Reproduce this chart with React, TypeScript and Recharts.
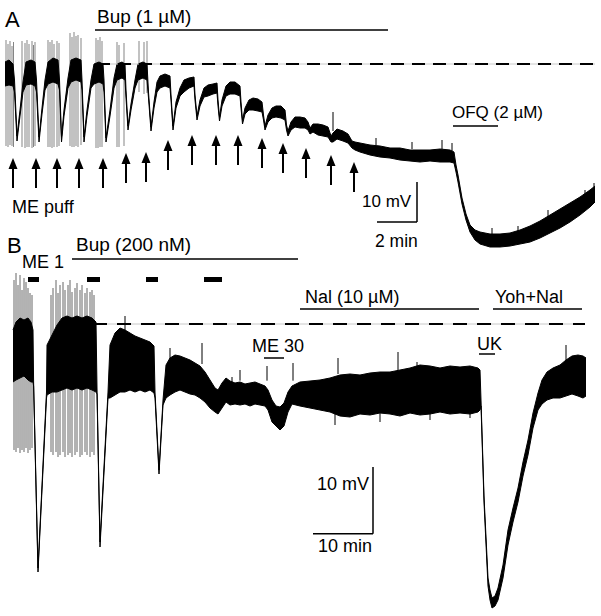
import { ComposedChart, Area, Scatter, XAxis, YAxis, ReferenceLine, ReferenceDot } from 'recharts';

const FONT = '"Liberation Sans", Arial, sans-serif';

// ---- Panel A: time in s, membrane potential in mV relative to the control plateau ----
const timeA = [
  15, 27, 39, 43.5, 51, 60, 69,
  78, 93, 105, 109.5, 117, 126, 135,
  144, 159, 174, 178.5, 184.5, 192, 204,
  213, 228, 243, 246, 252, 261, 273,
  282, 297, 309, 312, 318, 330, 342,
  351, 366, 375, 378, 384, 393, 405,
  414, 429, 441, 445.5, 453, 462, 471,
  480, 495, 510, 513, 519, 528, 540,
  552, 567, 582, 585, 591, 600, 612,
  624, 639, 651, 654, 658.5, 666, 678,
  690, 705, 720, 723, 727.5, 735, 747,
  759, 774, 786, 790.5, 795, 804, 816,
  828, 843, 855, 859.5, 864, 873, 885,
  900, 915, 924, 930, 939, 954,
  969, 984, 993, 999, 1011, 1029, 1044, 1056, 1065, 1080, 1110, 1140, 1170, 1200, 1230, 1260,
  1290, 1320, 1350, 1362, 1368, 1374, 1386, 1398, 1410, 1425, 1440, 1470, 1500, 1530, 1560,
  1590, 1620, 1650, 1680, 1710, 1740, 1770, 1785,
];
const highA = [
  0.25, 0.75, -0.25, -4.25, -18.25, -11.75, -4.75,
  0.25, 0.75, 0.25, -4.25, -18.5, -11.25, -4.25,
  0.25, 1.25, 0.75, -4.25, -18.5, -11.75, -3.75,
  0.75, 1.25, 0.75, -4.25, -18.5, -11.75, -4.25,
  -0.25, 0.25, -0.25, -4.25, -18.75, -11.75, -3.75,
  -0.25, 0.25, -0.25, -6.75, -15.75, -10.25, -4.25,
  -0.25, 0.25, -0.25, -7.25, -16, -9.75, -4.75,
  -3.25, -2.75, -3.25, -8, -15.75, -9.75, -6.25,
  -4.25, -3.75, -3.5, -8, -13.25, -9.25, -6.25,
  -5.5, -5.25, -5, -9.25, -13.5, -9.25, -5.75,
  -4.75, -4.75, -5.75, -9.75, -14.25, -11.25, -9.25,
  -8.75, -9, -9.75, -13, -15.75, -13, -11.25,
  -10.75, -10.75, -11.75, -15.5, -17, -14.75, -13.5,
  -13.5, -13.75, -14.75, -16.25, -15.25, -15.25,
  -15.5, -16, -18.25, -17.5, -16.5, -17, -17.75, -19.5, -19.75, -20, -20.5, -20.75, -21.25, -21.25, -21.75, -21.75,
  -21.75, -21.5, -21.75, -22.25, -25.5, -28, -33.75, -37.75, -40.5, -41.75, -42.25, -42.75, -42.75, -42.5, -41.75,
  -40.75, -39.5, -38, -36.5, -35, -33.5, -31.75, -30.75,
];
const lowA = [
  -5.75, -5.5, -5.75, -7.25, -19.5, -13.25, -7.25,
  -5.5, -5.25, -5.75, -7.25, -19.75, -12.75, -6.75,
  -5.25, -4.75, -5.25, -6.75, -19.75, -13.25, -6.25,
  -4.75, -4.25, -4.75, -6.75, -19.75, -13.25, -6.25,
  -5.25, -4.75, -5.25, -7.25, -19.75, -13.25, -6.25,
  -4.25, -3.75, -4.25, -8.75, -16.75, -11.75, -6.25,
  -4.25, -3.75, -4.25, -8.75, -17, -11.25, -7.25,
  -6.25, -5.75, -6.25, -9.25, -16.75, -11.25, -8.25,
  -7.25, -6.25, -5.75, -9.25, -14.25, -10.75, -8.5,
  -8.25, -7.75, -7.5, -10.75, -14.5, -10.75, -8.25,
  -7.75, -7.75, -8.25, -11.25, -15.25, -12.75, -11.75,
  -11.75, -12, -12.25, -14.25, -16.75, -14.75, -13.75,
  -13.5, -13.75, -14.25, -16.75, -18.25, -16.75, -16,
  -16.25, -16.25, -16.75, -17.75, -17.25, -18,
  -18.25, -18.5, -19.75, -19.75, -19, -19.5, -20, -21.25, -21.75, -22.25, -23, -23.5, -23.75, -24.25, -24.5, -24.75,
  -24.5, -24.75, -24.75, -25, -27.25, -29.75, -35.25, -39.25, -42.25, -44.25, -45.25, -46, -46, -45.75, -45.25,
  -44.75, -43.75, -42.5, -41.25, -39.75, -38, -36, -34.75,
];

// action potentials riding on the plateaus (grey) and single noise blips (black)
const spikeTimeA = [18, 24, 30, 36, 40.5, 66, 75, 81, 87, 96, 100.5, 105, 144, 150, 156, 162, 171, 177, 210, 216, 222, 228, 234, 243, 288, 294, 300, 306, 351, 357, 372, 417, 432, 441];
const spikeTopA = [5.75, 4.75, 5.5, 4.25, 5.25, 5.5, 5, 5.75, 4.75, 5.5, 4.5, 5.25, 5.75, 5.25, 5.75, 4.75, 5.5, 5, 7.5, 6.5, 7.75, 6.75, 7, 6.25, 6.25, 5.75, 6.5, 5.5, 5.25, 4.5, 5, 5.5, 5.25, 5.5];
const spikeBottomA = [-20.75, -21, -20.5, -20.75, -21, -21, -21.25, -21, -21, -21.25, -21, -20.75, -21, -21, -21.25, -21, -21, -20.75, -20.75, -21, -21, -20.75, -21, -20.5, -21.25, -21.25, -21, -21, -21, -21, -20.75, -7.25, -7.75, -7.5];
const blipTimeA = [999, 1128, 1236, 1326, 1356, 1476, 1554, 1644, 1755, 1782];
const blipTopA = [-12.25, -18.75, -19.75, -19.25, -20, -41.25, -40.75, -36.75, -31.75, -30];
const blipBottomA = [-17, -20.5, -21.5, -21.5, -22, -43, -42.5, -38.5, -33.5, -31.5];

// ME puffs
const puffTimeA = [39, 108, 171, 237, 309, 378, 438, 504, 576, 648, 714, 786, 849, 918, 993, 1062];
const puffArrowA = [-23.75, -23.75, -23.75, -23.75, -23.75, -22.5, -22.25, -19.25, -18, -18, -18, -18.75, -20, -21.25, -23, -24.75];

// ---- Panel B ----
const timeB = [
  130, 160, 200, 240, 280, 310, 330, 336, 380, 465,
  470, 520, 570, 620, 670, 720, 770, 820, 870, 920, 960, 970, 1000, 1080,
  1100, 1150, 1200, 1250, 1300, 1350, 1400, 1450, 1500, 1540, 1550, 1590, 1630,
  1660, 1700, 1750, 1800, 1850, 1900, 1950, 2000, 2050, 2100,
  2150, 2180, 2220, 2260, 2300, 2350, 2400, 2450, 2500, 2550,
  2600, 2650, 2680, 2720, 2760, 2800, 2840, 2880, 2920, 2960,
  3000, 3100, 3200, 3300, 3400, 3500, 3600, 3700, 3800, 3900,
  4000, 4100, 4200, 4300, 4400, 4500, 4600, 4700, 4780, 4800,
  4810, 4840, 4880, 4900, 4920, 4950, 4980, 5030, 5080, 5130,
  5180, 5230, 5280, 5330, 5380, 5420, 5470, 5530, 5600, 5660,
  5720, 5780, 5830, 5860,
];
const highB = [
  -0.9, 0.3, 0.9, 0.6, 0.9, 0.3, -0.9, -8.7, -36.6, -10.2,
  -3.15, -1.65, -0.15, 0.9, 1.2, 0.9, 1.2, 0.9, 1.2, 0.9, 0.3, -9.6, -32.7, -10.2,
  -3.15, -1.35, -0.6, -0.9, -1.35, -1.8, -2.1, -2.4, -2.7, -3.3, -10.2, -21.9, -11.4,
  -6.15, -5.1, -4.65, -4.8, -5.1, -5.4, -5.85, -6.3, -7.2, -8.4,
  -9.6, -9.9, -8.85, -8.1, -8.55, -8.85, -8.7, -9.0, -8.85, -8.7,
  -9.0, -9.3, -9.9, -11.4, -12.3, -12.45, -11.85, -10.2, -9.3, -9.0,
  -8.7, -8.55, -8.4, -8.1, -7.65, -7.5, -7.65, -7.35, -7.2, -7.2,
  -6.9, -6.6, -6.15, -6.3, -6.6, -6.3, -6.45, -6.3, -6.6, -6.9,
  -11.4, -25.8, -38.1, -39.9, -41.1, -40.8, -39.6, -36.15, -30.9, -27.6,
  -24.6, -20.7, -17.4, -13.35, -10.35, -8.4, -7.2, -6.6, -6.15, -5.4,
  -4.8, -4.65, -4.8, -5.1,
];
const lowB = [
  -8.7, -8.4, -8.1, -7.8, -8.4, -8.7, -8.7, -9.3, -37.2, -11.1,
  -10.65, -10.2, -10.2, -9.9, -9.6, -9.9, -9.6, -9.9, -9.6, -9.9, -10.2, -10.5, -33.45, -11.1,
  -11.1, -10.65, -10.2, -10.2, -9.9, -10.2, -9.9, -10.2, -9.9, -10.35, -11.1, -22.5, -12.15,
  -11.1, -10.65, -10.2, -9.9, -10.2, -10.5, -10.65, -11.1, -11.7, -12.6,
  -13.2, -13.5, -12.6, -11.7, -12.15, -12.0, -12.15, -12.0, -12.3, -12.0,
  -12.15, -12.3, -12.9, -14.7, -15.3, -15.9, -15.3, -13.2, -12.0, -12.15,
  -12.3, -12.6, -12.9, -13.2, -13.8, -13.95, -13.5, -13.65, -13.35, -13.5,
  -13.8, -13.35, -13.65, -13.5, -13.2, -13.5, -13.35, -13.5, -13.2, -12.9,
  -12.3, -26.7, -39.3, -41.4, -42.6, -42.3, -41.4, -38.1, -33.15, -29.7,
  -26.7, -22.8, -19.65, -15.6, -12.9, -12.0, -11.4, -11.1, -11.1, -10.8,
  -10.5, -10.8, -11.1, -10.8,
];

const spikeTimeB = [140, 160, 180, 200, 220, 240, 260, 280, 300, 320, 510, 530, 560, 580, 600, 630, 650, 680, 700, 720, 750, 770, 800, 820, 850, 870, 900, 920, 940];
const spikeTopB = [6.6, 7.65, 5.85, 7.35, 5.1, 6.9, 6.3, 5.4, 4.65, 4.35, 4.35, 5.4, 6.6, 4.65, 5.85, 6.3, 5.1, 5.85, 6.6, 4.8, 5.4, 6.15, 5.1, 5.85, 4.65, 5.4, 4.8, 5.1, 4.35];
const spikeBottomB = [-18.9, -19.2, -18.6, -19.35, -18.9, -19.2, -18.6, -19.35, -18.9, -18.6, -19.2, -19.65, -19.2, -19.95, -19.65, -19.2, -19.95, -19.65, -19.35, -19.95, -19.65, -19.2, -19.95, -19.65, -19.2, -19.65, -19.95, -19.2, -19.65];
const blipTimeB = [1250, 1700, 2020, 2320, 2400, 2670, 2930, 3380, 3980, 4170, 5660, 3350, 3800, 4300, 4700];
const blipTopB = [1.2, -3.6, -2.85, -7.95, -6.9, -6.3, -5.85, -5.1, -4.2, -5.7, -3.15, -13, -13, -13, -13];
const blipBottomB = [-1, -5.5, -6, -9, -8.5, -8.5, -8.5, -7.5, -7, -7, -5.5, -15.15, -14.7, -14.4, -14.1];

// ME 1 µM applications in B (s)
const meStartB = [280, 870, 1460, 2040];
const meEndB = [390, 1000, 1580, 2220];

const rowsA = timeA.map((t, i) => ({ t, v: [lowA[i], highA[i]] }));
const rowsB = timeB.map((t, i) => ({ t, v: [lowB[i], highB[i]] }));
const arrowsA = puffTimeA.map((t, i) => ({ t, y: puffArrowA[i] }));

const SIZE_A = { width: 601, height: 255 };
const SIZE_B = { width: 601, height: 386 };
const NO_MARGIN = { top: 0, right: 0, bottom: 0, left: 0 };

function ArrowShape(props: any) {
  const { cx, cy } = props;
  if (cx == null || cy == null) return null;
  return (
    <g>
      <line x1={cx} y1={cy + 8} x2={cx} y2={cy + 30} stroke="#000" strokeWidth={2} />
      <path d={`M${cx},${cy} L${cx - 4.5},${cy + 11} L${cx + 4.5},${cy + 11} Z`} fill="#000" />
    </g>
  );
}

const label = (value: string, size = 18) => ({
  value,
  position: 'right' as const,
  offset: 0,
  fill: '#000',
  fontSize: size,
  fontFamily: FONT,
});

function hLine(key: string, x1: number, x2: number, y: number, width = 1.5, dash?: string, color = '#000') {
  return (
    <ReferenceLine
      key={key}
      segment={[{ x: x1, y }, { x: x2, y }]}
      stroke={color}
      strokeWidth={width}
      strokeDasharray={dash}
      ifOverflow="visible"
    />
  );
}

function vLine(key: string, x: number, y1: number, y2: number, color: string, width = 1) {
  return (
    <ReferenceLine key={key} segment={[{ x, y: y1 }, { x, y: y2 }]} stroke={color} strokeWidth={width} ifOverflow="visible" />
  );
}

function TextAt({ x, y, text, size }: { x: number; y: number; text: string; size?: number }) {
  return <ReferenceDot x={x} y={y} r={0} fill="none" stroke="none" ifOverflow="visible" label={label(text, size)} />;
}

const layer: React.CSSProperties = { position: 'absolute', left: 0, top: 0 };

export default function App() {
  return (
    <div style={{ position: 'absolute', left: 0, top: 0, width: 601, height: 616, background: '#fff', overflow: 'hidden' }}>
      {/* panel A: spikes underneath, trace and annotations on top */}
      <div style={{ position: 'absolute', left: 0, top: 0, ...SIZE_A }}>
        <div style={layer}>
          <ComposedChart {...SIZE_A} data={rowsA} margin={NO_MARGIN}>
            <XAxis type="number" dataKey="t" domain={[0, 1803]} hide allowDataOverflow />
            <YAxis type="number" domain={[-48, 15.75]} hide allowDataOverflow />
            {spikeTimeA.map((t, i) => vLine(`sa${i}`, t, spikeBottomA[i], spikeTopA[i], '#858585'))}
          </ComposedChart>
        </div>
        <div style={layer}>
          <ComposedChart {...SIZE_A} data={rowsA} margin={NO_MARGIN}>
            <XAxis type="number" dataKey="t" domain={[0, 1803]} hide allowDataOverflow />
            <YAxis type="number" domain={[-48, 15.75]} hide allowDataOverflow />
            <Area type="linear" dataKey="v" stroke="#000" strokeWidth={1} fill="#000" fillOpacity={1} dot={false} activeDot={false} isAnimationActive={false} />
            {blipTimeA.map((t, i) => vLine(`ba${i}`, t, blipBottomA[i], blipTopA[i], '#000'))}
            <Scatter data={arrowsA} dataKey="y" shape={ArrowShape} isAnimationActive={false} />
            {hLine('bupA', 285, 1164, 8.25)}
            {hLine('ctlA0', 291, 1785, -0.25, 1, undefined, '#c8c8c8')}
            {hLine('ctlA', 291, 1785, -0.25, 2, '13 8')}
            {hLine('ofq', 1359, 1494, -15.75)}
            {vLine('sbAv', 1251, -39.75, -29.75, '#000', 1.5)}
            {hLine('sbAh', 1131, 1251, -39.75)}
            <TextAt x={15} y={11} text="A" size={22} />
            <TextAt x={291} y={11.6} text="Bup (1 µM)" size={19} />
            <TextAt x={36} y={-35.9} text="ME puff" />
            <TextAt x={1356} y={-12.25} text="OFQ (2 µM)" size={17} />
            <TextAt x={1086} y={-34.5} text="10 mV" size={17} />
            <TextAt x={1125} y={-44.5} text="2 min" size={17.5} />
          </ComposedChart>
        </div>
      </div>
      {/* panel B */}
      <div style={{ position: 'absolute', left: 0, top: 230, ...SIZE_B }}>
        <div style={layer}>
          <ComposedChart {...SIZE_B} data={rowsB} margin={NO_MARGIN}>
            <XAxis type="number" dataKey="t" domain={[0, 6010]} hide allowDataOverflow />
            <YAxis type="number" domain={[-43.8, 14.1]} hide allowDataOverflow />
            {spikeTimeB.map((t, i) => vLine(`sb${i}`, t, spikeBottomB[i], spikeTopB[i], '#666'))}
          </ComposedChart>
        </div>
        <div style={layer}>
          <ComposedChart {...SIZE_B} data={rowsB} margin={NO_MARGIN}>
            <XAxis type="number" dataKey="t" domain={[0, 6010]} hide allowDataOverflow />
            <YAxis type="number" domain={[-43.8, 14.1]} hide allowDataOverflow />
            <Area type="linear" dataKey="v" stroke="#000" strokeWidth={1} fill="#000" fillOpacity={1} dot={false} activeDot={false} isAnimationActive={false} />
            {blipTimeB.map((t, i) => vLine(`bb${i}`, t, blipBottomB[i], blipTopB[i], '#000'))}
            {hLine('bupB', 720, 2980, 9.75)}
            {meStartB.map((s, i) => hLine(`me${i}`, s, meEndB[i], 6.675, 5))}
            {hLine('ctlB0', 930, 5850, 0, 1, undefined, '#c8c8c8')}
            {hLine('ctlB', 930, 5850, 0, 2, '14 10')}
            {hLine('me30', 2640, 2840, -5.1)}
            {hLine('nal', 3000, 4790, 2.25)}
            {hLine('yoh', 4930, 5820, 2.25)}
            {hLine('uk', 4790, 4950, -4.5)}
            {vLine('sbBv', 3730, -31.45, -21.45, '#000', 1.5)}
            {hLine('sbBh', 3130, 3730, -31.45)}
            <TextAt x={70} y={11.85} text="B" size={22} />
            <TextAt x={760} y={11.9} text="Bup (200 nM)" size={19} />
            <TextAt x={220} y={9.3} text="ME 1" />
            <TextAt x={2520} y={-3.3} text="ME 30" />
            <TextAt x={3050} y={4.05} text="Nal (10 µM)" />
            <TextAt x={4950} y={4.05} text="Yoh+Nal" />
            <TextAt x={4770} y={-3.0} text="UK" />
            <TextAt x={3170} y={-24} text="10 mV" />
            <TextAt x={3180} y={-33.3} text="10 min" />
          </ComposedChart>
        </div>
      </div>
    </div>
  );
}
